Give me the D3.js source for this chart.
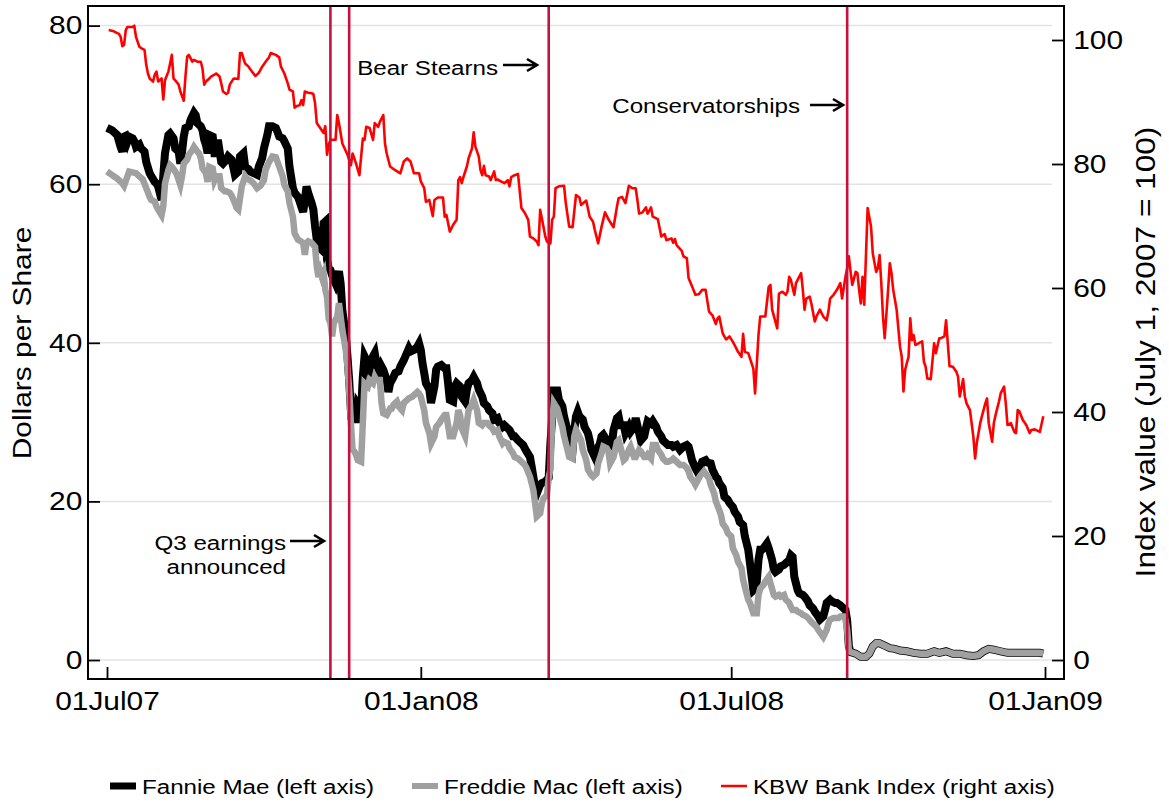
<!DOCTYPE html>
<html>
<head>
<meta charset="utf-8">
<script src="https://cdn.jsdelivr.net/npm/d3@7"></script>
<style>
  body { margin: 0; background: #fff; }
  text { font-family: "Liberation Sans", Arial, sans-serif; fill: #000; }
</style>
</head>
<body>
<div id="chart"></div>
<script>
// days since 01Jul2007, price / index value
var startDate = new Date(2007, 6, 1);

var fannie = [[0,67.1],[3,66.8],[5,66.4],[6,66.2],[8,64.7],[9,64.1],[10,66.0],[11,66.1],[12,65.4],[13,66.0],[15,65.8],[16,65.4],[17,64.7],[19,65.0],[20,64.5],[22,64.1],[23,62.8],[25,61.4],[26,61.0],[28,60.3],[29,60.1],[30,59.7],[32,58.0],[33,61.0],[34,63.9],[36,66.2],[37,66.4],[39,65.8],[40,64.5],[42,64.1],[43,62.6],[44,64.1],[45,66.0],[46,67.1],[48,67.3],[49,68.1],[51,69.0],[52,68.7],[53,67.7],[55,67.3],[56,66.8],[57,65.6],[58,65.0],[59,63.9],[60,66.2],[62,66.0],[63,63.9],[64,63.9],[65,65.6],[67,62.8],[68,62.6],[70,63.1],[71,63.5],[73,63.1],[74,62.2],[75,61.2],[77,61.6],[78,63.5],[80,63.9],[81,62.2],[83,61.9],[84,61.6],[86,61.4],[88,61.2],[89,62.2],[91,63.3],[92,64.5],[94,66.2],[95,67.3],[97,67.3],[99,67.1],[100,66.6],[101,66.0],[103,65.8],[104,65.4],[106,64.5],[107,62.2],[109,59.5],[110,58.9],[112,58.4],[113,57.8],[115,56.5],[116,58.0],[117,59.7],[118,58.9],[120,57.6],[121,56.8],[122,54.7],[123,53.0],[124,52.1],[126,51.7],[127,55.1],[128,55.3],[129,50.5],[130,49.4],[131,49.2],[132,48.5],[134,47.5],[136,49.0],[137,47.5],[138,44.1],[140,41.0],[141,38.3],[142,35.3],[143,31.5],[145,32.0],[146,29.9],[147,32.2],[149,31.5],[150,35.7],[151,38.3],[153,37.4],[154,36.6],[156,38.3],[157,38.7],[158,37.4],[160,36.2],[161,37.0],[162,36.6],[164,35.3],[165,33.8],[166,34.9],[168,35.7],[169,36.2],[171,36.4],[172,37.0],[174,37.8],[175,38.3],[177,39.3],[178,38.9],[180,39.1],[182,39.5],[183,39.9],[184,39.1],[185,37.4],[186,36.2],[187,34.9],[189,34.1],[190,32.4],[192,34.5],[193,36.6],[194,37.0],[196,37.2],[198,36.8],[199,36.8],[200,34.9],[201,32.8],[203,32.6],[204,34.5],[205,34.9],[207,34.5],[208,33.2],[210,32.6],[211,34.1],[212,34.9],[214,35.3],[215,35.7],[217,34.9],[218,34.1],[220,33.2],[221,32.4],[223,32.0],[224,31.5],[226,31.1],[227,30.3],[229,30.5],[230,29.9],[232,29.4],[233,29.6],[235,29.2],[236,29.0],[238,28.2],[239,28.2],[241,27.7],[242,27.5],[244,27.1],[245,26.7],[246,26.3],[248,25.6],[249,24.4],[250,23.1],[251,21.9],[252,21.0],[254,22.1],[255,22.3],[257,22.5],[259,23.0],[260,27.3],[261,30.5],[262,34.0],[264,34.0],[265,32.8],[267,32.0],[268,30.7],[270,29.0],[271,27.3],[273,26.5],[274,29.0],[275,30.7],[276,31.3],[277,30.7],[279,30.3],[280,29.4],[282,28.6],[283,27.7],[284,26.5],[286,25.6],[287,26.3],[289,27.3],[290,28.2],[291,28.4],[293,27.7],[295,27.3],[296,27.1],[297,29.0],[299,30.5],[300,30.7],[301,29.6],[303,29.6],[304,28.6],[306,29.4],[307,28.8],[309,29.4],[310,30.5],[312,28.6],[313,27.7],[315,28.2],[316,29.2],[317,30.1],[319,29.8],[320,30.1],[322,29.4],[323,28.8],[325,28.2],[326,27.7],[328,27.3],[329,27.1],[331,27.1],[332,26.9],[334,27.1],[336,26.5],[338,26.9],[340,27.1],[341,26.9],[342,26.1],[343,25.2],[345,24.2],[346,23.8],[348,24.4],[349,25.0],[351,25.2],[352,24.9],[354,24.8],[355,24.0],[357,23.1],[358,22.9],[359,22.3],[361,21.7],[362,20.6],[364,20.2],[365,19.8],[367,19.3],[368,18.7],[370,18.1],[371,17.4],[373,17.0],[374,15.6],[376,13.9],[377,12.2],[378,10.5],[379,8.8],[380,9.0],[381,9.9],[382,12.6],[383,13.9],[384,13.9],[385,14.1],[387,14.7],[388,14.1],[390,12.6],[391,11.4],[392,11.1],[394,11.4],[395,11.8],[397,12.0],[398,12.2],[400,12.6],[401,13.2],[402,13.0],[403,10.5],[405,8.8],[406,8.4],[408,8.2],[409,8.0],[411,7.4],[412,6.9],[414,6.5],[415,6.1],[417,5.5],[418,5.1],[420,5.5],[421,6.3],[422,7.2],[424,7.6],[425,7.4],[427,7.2],[428,7.2],[430,6.9],[431,6.7],[433,6.3],[434,5.0],[435,1.7],[436,1.0],[439,0.8],[442,0.4],[445,0.4],[447,0.8],[449,1.7],[451,2.1],[453,2.1],[456,1.8],[459,1.5],[462,1.4],[465,1.2],[469,1.1],[473,0.9],[477,0.8],[481,0.8],[485,1.1],[488,0.9],[492,1.1],[496,0.8],[500,0.8],[504,0.6],[508,0.5],[511,0.6],[514,1.1],[517,1.4],[520,1.3],[524,1.1],[528,0.9],[531,0.9],[535,0.9],[539,0.9],[543,0.9],[547,0.9],[549,0.8]];

var freddie = [[0,61.6],[2,61.3],[4,61.0],[6,60.7],[7,60.5],[9,60.1],[10,59.8],[12,61.0],[13,61.6],[15,61.5],[17,61.4],[19,61.0],[21,60.6],[23,59.5],[25,58.4],[26,58.0],[28,57.8],[29,57.2],[30,56.8],[32,56.1],[33,57.2],[34,60.1],[36,61.8],[37,62.4],[38,62.2],[40,61.6],[41,61.2],[43,59.9],[44,61.0],[45,62.6],[47,63.1],[48,63.7],[50,64.3],[51,64.7],[53,64.1],[54,63.9],[55,63.3],[56,62.0],[58,61.4],[59,60.3],[60,62.2],[62,62.0],[63,60.5],[64,61.0],[66,61.0],[67,59.5],[69,59.1],[70,59.1],[72,58.9],[73,58.6],[75,57.6],[76,57.0],[77,56.8],[79,59.7],[81,61.0],[82,60.7],[84,60.5],[86,60.1],[88,59.5],[90,59.8],[92,60.5],[93,61.8],[95,62.8],[97,63.5],[99,63.4],[100,62.8],[101,62.2],[103,61.0],[104,59.9],[106,59.1],[107,57.6],[109,55.9],[110,53.8],[112,53.0],[113,52.9],[115,52.6],[116,51.1],[117,52.6],[118,52.8],[120,52.6],[122,52.1],[123,49.6],[124,48.3],[125,49.0],[126,48.3],[127,48.8],[128,46.7],[129,45.8],[130,43.0],[131,42.5],[132,40.8],[133,42.5],[135,43.3],[136,45.0],[137,43.3],[138,41.6],[140,39.1],[141,37.0],[142,34.1],[143,29.9],[144,26.5],[145,26.3],[146,25.9],[147,25.2],[149,25.0],[150,29.9],[151,34.9],[153,34.5],[154,35.3],[156,34.9],[157,35.7],[158,35.3],[160,35.3],[161,32.4],[162,31.1],[164,30.9],[166,31.7],[167,31.7],[168,32.2],[170,32.6],[171,32.0],[173,31.5],[174,32.4],[176,32.8],[177,33.0],[179,33.2],[180,33.4],[182,33.8],[183,33.6],[184,33.2],[186,31.5],[187,29.9],[189,28.6],[190,27.3],[192,28.2],[193,29.4],[195,29.9],[196,30.3],[198,30.9],[199,30.9],[200,29.6],[201,28.2],[203,28.2],[205,29.9],[206,31.5],[207,30.9],[208,29.2],[210,28.2],[211,29.9],[212,31.5],[214,32.2],[215,32.8],[217,31.5],[218,29.9],[220,29.6],[221,29.9],[223,29.9],[224,29.6],[226,29.2],[227,28.8],[229,29.0],[230,28.2],[232,27.3],[233,27.5],[235,27.3],[236,26.7],[238,26.1],[239,25.6],[241,25.4],[242,25.2],[244,24.8],[245,24.6],[246,24.2],[248,23.1],[250,21.4],[251,19.8],[252,18.1],[254,18.5],[255,19.8],[256,20.4],[258,20.8],[259,23.0],[260,24.0],[261,29.9],[262,32.4],[264,31.7],[265,30.9],[267,29.4],[268,28.2],[270,26.5],[271,25.6],[273,25.4],[274,28.2],[275,29.0],[276,28.6],[278,27.7],[279,26.5],[281,25.2],[282,24.0],[284,23.3],[285,23.1],[287,23.5],[288,24.8],[290,26.1],[291,26.9],[293,26.7],[294,26.3],[295,24.8],[297,25.6],[299,27.5],[300,27.7],[301,26.9],[303,25.2],[304,25.4],[306,26.5],[307,26.9],[309,25.6],[310,25.6],[312,26.5],[313,26.3],[315,25.6],[316,25.6],[317,25.9],[319,25.4],[320,27.1],[322,27.1],[323,26.5],[325,25.9],[326,25.4],[328,25.0],[329,25.0],[331,25.2],[332,25.4],[334,25.0],[336,24.6],[338,24.6],[340,24.2],[341,23.8],[342,23.1],[344,22.5],[345,22.1],[347,22.9],[348,23.3],[350,23.8],[351,23.5],[353,22.9],[354,22.1],[356,21.0],[357,20.0],[359,18.9],[360,18.3],[361,17.2],[363,16.6],[364,16.0],[366,15.6],[367,14.1],[369,13.2],[370,12.4],[372,11.6],[373,10.1],[375,8.4],[376,7.6],[377,7.2],[379,5.9],[381,5.9],[382,8.2],[383,9.0],[385,9.5],[386,9.9],[388,10.5],[389,9.7],[391,8.2],[392,8.0],[394,8.2],[395,8.0],[397,8.2],[398,7.6],[400,7.2],[401,6.7],[402,6.3],[404,6.3],[405,6.1],[407,5.9],[408,5.7],[410,5.5],[411,5.3],[413,4.8],[414,4.6],[416,4.2],[417,3.8],[419,3.2],[420,2.9],[422,3.8],[423,4.6],[424,5.1],[426,5.3],[428,5.3],[429,5.3],[430,5.5],[432,5.5],[433,5.1],[434,3.8],[435,1.3],[436,1.0],[439,0.8],[442,0.4],[445,0.4],[447,0.8],[449,1.7],[451,2.1],[453,2.1],[456,1.8],[459,1.5],[462,1.4],[465,1.2],[469,1.1],[473,0.9],[477,0.8],[481,0.8],[485,1.1],[488,0.9],[492,1.1],[496,0.8],[500,0.8],[504,0.6],[508,0.5],[511,0.6],[514,1.1],[517,1.4],[520,1.3],[524,1.1],[528,0.9],[531,0.9],[535,0.9],[539,0.9],[543,0.9],[547,0.9],[549,0.8]];

var kbw = [[1,101.6],[4,101.4],[7,101.0],[8,100.5],[9,99.0],[10,99.2],[11,101.6],[12,102.1],[15,102.1],[16,102.3],[17,100.5],[19,98.9],[20,98.7],[22,98.4],[23,96.0],[24,94.6],[25,93.8],[27,93.3],[28,94.4],[29,94.9],[30,93.3],[32,93.8],[33,90.4],[34,93.5],[36,94.9],[37,96.2],[38,97.6],[39,93.8],[40,93.5],[42,92.8],[43,91.7],[45,90.2],[46,94.1],[47,97.3],[48,97.6],[50,96.5],[51,96.8],[53,96.5],[55,96.5],[56,95.4],[57,92.8],[58,93.3],[60,93.8],[61,94.1],[63,94.4],[64,94.6],[66,94.1],[67,93.0],[68,91.7],[70,91.3],[71,91.5],[72,92.8],[74,93.7],[75,93.8],[77,93.7],[78,97.9],[79,97.9],[81,96.2],[83,95.7],[85,94.9],[87,94.2],[89,94.7],[91,95.7],[93,96.5],[95,97.2],[96,97.9],[99,97.6],[101,97.2],[102,95.7],[104,94.6],[106,93.0],[107,92.0],[109,91.7],[110,89.1],[111,89.3],[113,89.5],[114,90.3],[115,89.5],[116,91.7],[118,91.5],[120,91.4],[121,91.3],[122,89.8],[123,86.6],[125,85.8],[127,85.0],[128,86.1],[129,81.5],[130,83.1],[131,83.9],[134,83.9],[135,87.9],[136,86.6],[138,83.3],[141,81.5],[143,79.8],[144,81.7],[146,80.1],[148,78.2],[150,84.1],[151,83.9],[152,86.0],[154,85.8],[156,83.9],[157,86.6],[159,86.0],[160,86.8],[162,87.9],[163,83.3],[164,81.7],[166,79.6],[169,79.0],[172,78.5],[174,80.4],[176,80.9],[178,80.4],[180,78.5],[183,78.5],[184,77.2],[186,76.1],[187,73.9],[189,74.2],[191,71.6],[192,74.2],[194,74.6],[197,74.6],[198,71.5],[199,71.8],[201,69.1],[203,70.2],[205,71.0],[206,77.4],[207,77.9],[208,76.9],[209,77.9],[211,79.6],[212,80.9],[214,82.5],[215,85.1],[216,82.8],[218,81.2],[219,79.0],[220,78.2],[221,79.7],[222,78.2],[224,78.0],[225,77.4],[227,78.8],[228,77.4],[229,77.5],[231,77.2],[233,76.9],[235,77.4],[236,76.4],[237,77.9],[239,78.2],[241,78.4],[243,72.9],[245,72.1],[247,71.0],[248,68.3],[250,68.0],[252,67.5],[253,66.9],[254,72.6],[255,71.2],[257,68.3],[258,67.5],[260,67.2],[261,71.0],[262,71.5],[263,76.1],[265,76.4],[268,76.5],[269,73.7],[271,69.9],[273,69.8],[275,75.0],[277,74.6],[278,73.4],[281,74.1],[283,71.5],[285,70.7],[286,69.4],[288,67.2],[290,69.9],[292,72.2],[294,71.1],[297,69.8],[299,73.1],[300,74.5],[302,74.7],[304,73.7],[306,76.5],[308,76.1],[310,76.1],[311,74.2],[312,72.0],[314,72.2],[316,73.0],[317,72.0],[319,73.0],[320,71.5],[323,71.1],[325,68.3],[327,68.7],[328,67.7],[331,68.0],[332,67.3],[333,67.9],[334,66.9],[337,66.0],[338,65.1],[340,64.8],[341,61.6],[343,60.3],[345,58.9],[347,59.0],[349,59.7],[351,59.7],[353,56.2],[355,55.6],[357,54.2],[358,55.1],[359,55.4],[361,52.7],[363,51.7],[365,52.2],[367,51.3],[368,50.8],[370,49.7],[372,48.9],[373,52.6],[374,49.7],[376,49.5],[379,47.0],[380,43.0],[382,52.4],[383,55.4],[386,55.4],[388,60.2],[389,60.5],[390,56.5],[393,53.5],[394,59.1],[396,59.4],[398,58.9],[399,59.4],[400,61.8],[401,61.3],[403,58.9],[404,60.8],[407,62.4],[408,59.7],[409,56.5],[410,58.3],[412,58.6],[413,57.5],[415,54.6],[416,55.4],[418,56.5],[420,55.4],[422,54.8],[423,56.2],[424,58.3],[426,58.9],[428,59.7],[430,60.8],[431,58.3],[433,61.8],[434,63.2],[435,65.1],[436,62.6],[437,60.5],[439,62.6],[440,62.4],[441,59.7],[442,57.5],[443,61.8],[444,57.3],[445,65.1],[446,72.9],[448,69.9],[449,65.6],[451,62.6],[452,63.2],[453,65.3],[454,60.8],[455,55.4],[456,51.9],[458,59.7],[459,64.0],[460,62.4],[461,59.7],[462,58.1],[463,56.5],[465,50.5],[466,48.9],[467,43.3],[468,46.8],[469,47.9],[470,48.9],[471,55.1],[472,51.6],[473,52.4],[474,50.8],[476,51.1],[478,51.4],[479,48.1],[480,47.3],[481,45.4],[483,45.3],[485,51.1],[486,49.5],[488,51.9],[489,51.9],[491,52.2],[492,54.8],[494,47.4],[496,47.3],[498,46.5],[499,45.7],[500,42.5],[502,45.3],[503,42.5],[504,41.4],[506,40.3],[508,36.0],[509,32.5],[510,35.0],[512,38.2],[513,39.3],[515,41.4],[516,42.2],[517,38.2],[519,35.2],[520,38.2],[521,39.5],[523,41.7],[524,43.0],[526,44.1],[527,41.4],[528,37.9],[530,38.2],[532,36.8],[533,36.6],[534,40.3],[535,40.1],[537,38.7],[539,37.9],[541,36.6],[542,37.1],[544,37.2],[547,36.8],[549,39.3]];

var eventDates = ["2007-11-09", "2007-11-20", "2008-03-16", "2008-09-07"];
var xTickDates = ["2007-07-01", "2008-01-01", "2008-07-01", "2009-01-01"];
var leftTicks = [0, 20, 40, 60, 80];
var rightTicks = [0, 20, 40, 60, 80, 100];

var legendItems = [
  {label: "Fannie Mae (left axis)", color: "#000000", h: 7, x: 110},
  {label: "Freddie Mac (left axis)", color: "#a0a0a0", h: 6, x: 412},
  {label: "KBW Bank Index (right axis)", color: "#ff0000", h: 2.5, x: 721}
];

var W = 1169, H = 802;
var box = {left: 88, right: 1064, top: 6, bottom: 679};
var stretch = 1.15; // the original font is wider than Arial

var parseDate = d3.timeParse("%Y-%m-%d");
var toDate = function(d) { return d3.timeDay.offset(startDate, d); };

var x = d3.scaleTime()
    .domain([parseDate("2007-07-01"), parseDate("2009-01-01")])
    .range([107, 1045]);
var yL = d3.scaleLinear().domain([0, 80]).range([660, 25.6]);
var yR = d3.scaleLinear().domain([0, 100]).range([660, 40]);

var svg = d3.select("#chart").append("svg")
    .attr("width", W)
    .attr("height", H);

svg.append("rect").attr("width", W).attr("height", H).attr("fill", "#fff");

// gridlines (left axis)
svg.selectAll(".grid")
    .data(leftTicks)
    .enter()
    .append("line")
    .attr("x1", box.left + 12)
    .attr("x2", box.right - 12)
    .attr("y1", d => yL(d))
    .attr("y2", d => yL(d))
    .attr("stroke", "#e3e3e3")
    .attr("stroke-width", 1.5);

var lineL = d3.line().x(d => x(toDate(d[0]))).y(d => yL(d[1]));
var lineR = d3.line().x(d => x(toDate(d[0]))).y(d => yR(d[1]));

svg.append("path").datum(fannie)
    .attr("d", lineL).attr("fill", "none")
    .attr("stroke", "#000").attr("stroke-width", 8);
svg.append("path").datum(freddie)
    .attr("d", lineL).attr("fill", "none")
    .attr("stroke", "#a0a0a0").attr("stroke-width", 6.5);
svg.append("path").datum(kbw)
    .attr("d", lineR).attr("fill", "none")
    .attr("stroke", "#ff0000").attr("stroke-width", 2.6)
    .attr("stroke-linejoin", "round");

// event lines
svg.selectAll(".event")
    .data(eventDates)
    .enter()
    .append("line")
    .attr("x1", d => x(parseDate(d)))
    .attr("x2", d => x(parseDate(d)))
    .attr("y1", box.top)
    .attr("y2", box.bottom)
    .attr("stroke", "#c8103c")
    .attr("stroke-width", 2.6);

function label(px, py, str, size, anchor, rot) {
    return svg.append("text")
        .attr("transform", "translate(" + px + "," + py + ")" + (rot ? " rotate(" + rot + ")" : "") + " scale(" + stretch + ",1)")
        .attr("text-anchor", anchor || "start")
        .style("font-size", size + "px")
        .text(str);
}

function arrow(x1, x2, yy) {
    svg.append("path")
        .attr("d", "M" + x1 + "," + yy + "H" + x2 + "M" + (x2 - 10) + "," + (yy - 6) + "L" + x2 + "," + yy + "L" + (x2 - 10) + "," + (yy + 6))
        .attr("fill", "none")
        .attr("stroke", "#000")
        .attr("stroke-width", 2.6);
}

// annotations
label(498, 75, "Bear Stearns", 21, "end");
arrow(503, 537, 65);
label(800, 113, "Conservatorships", 21, "end");
arrow(810, 843, 105);
label(286, 550, "Q3 earnings", 21, "end");
label(286, 574, "announced", 21, "end");
arrow(290, 324, 541);

// axes
var axL = svg.append("g")
    .attr("transform", "translate(" + box.left + ",0)")
    .call(d3.axisLeft(yL).tickValues(leftTicks).tickSize(-12).tickPadding(5).tickFormat(d3.format("d")));
var axR = svg.append("g")
    .attr("transform", "translate(" + box.right + ",0)")
    .call(d3.axisRight(yR).tickValues(rightTicks).tickSize(-12).tickPadding(8).tickFormat(d3.format("d")));
var axB = svg.append("g")
    .attr("transform", "translate(0," + box.bottom + ")")
    .call(d3.axisBottom(x).tickValues(xTickDates.map(parseDate)).tickSize(-12).tickPadding(13).tickFormat(d3.timeFormat("%d%b%y")));

[axL, axR, axB].forEach(function(ax) {
    ax.select(".domain").remove();
    ax.selectAll(".tick line").attr("stroke", "#000").attr("stroke-width", 1.8);
    ax.selectAll(".tick text")
        .attr("transform", "scale(" + stretch + ",1)")
        .style("font-size", "26px")
        .style("font-family", "'Liberation Sans', Arial, sans-serif")
        .attr("fill", "#000");
});

// axis titles
label(31, 343, "Dollars per Share", 26, "middle", -90);
label(1155, 352, "Index value  (July 1, 2007 = 100)", 27.5, "middle", -90);

// frame
svg.append("rect")
    .attr("x", box.left)
    .attr("y", box.top)
    .attr("width", box.right - box.left)
    .attr("height", box.bottom - box.top)
    .attr("fill", "none")
    .attr("stroke", "#000")
    .attr("stroke-width", 2);

// legend
var leg = svg.selectAll(".legend")
    .data(legendItems)
    .enter()
    .append("g");
leg.append("rect")
    .attr("x", d => d.x)
    .attr("y", d => 786 - d.h / 2)
    .attr("width", 26)
    .attr("height", d => d.h)
    .attr("fill", d => d.color);
leg.append("text")
    .attr("transform", d => "translate(" + (d.x + 32) + ",794) scale(" + stretch + ",1)")
    .style("font-size", "21px")
    .text(d => d.label);
</script>
</body>
</html>
